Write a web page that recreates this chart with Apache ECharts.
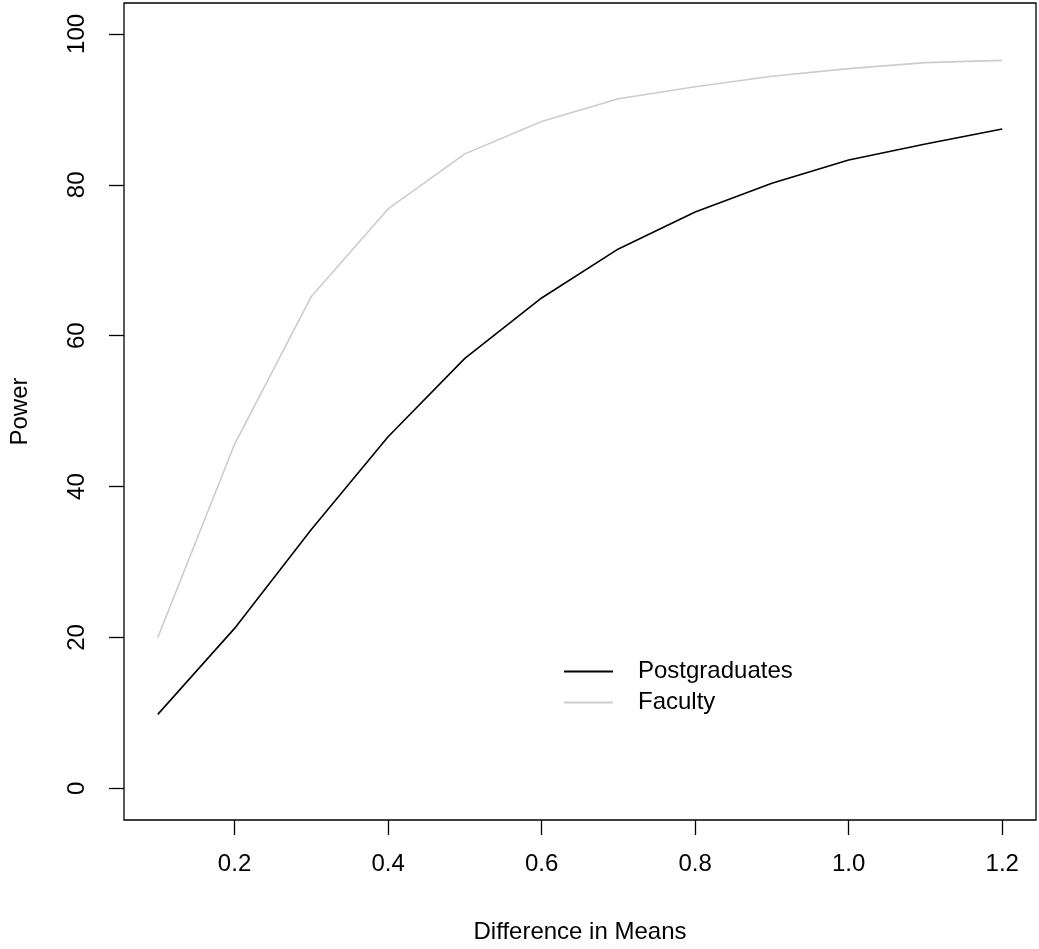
<!DOCTYPE html>
<html>
<head>
<meta charset="utf-8">
<script src="https://cdn.jsdelivr.net/npm/echarts@6/dist/echarts.min.js"></script>
<style>
  html, body { margin: 0; padding: 0; background: #ffffff; }
  #chart { width: 1039px; height: 949px; }
</style>
</head>
<body>
<div id="chart"></div>
<script>
// difference in means (x) and power (%)
const diffs = [0.1, 0.2, 0.3, 0.4, 0.5, 0.6, 0.7, 0.8, 0.9, 1.0, 1.1, 1.2];
const postgraduates = [9.8, 21.2, 34.3, 46.6, 57.0, 65.0, 71.5, 76.4, 80.2, 83.3, 85.4, 87.4];
const faculty = [20.0, 45.6, 65.2, 76.8, 84.1, 88.4, 91.4, 93.0, 94.4, 95.4, 96.2, 96.5];

const xTicks = [0.2, 0.4, 0.6, 0.8, 1.0, 1.2];
const yTicks = [0, 20, 40, 60, 80, 100];

const FONT = 'Liberation Sans, Arial, sans-serif';

const chart = echarts.init(document.getElementById('chart'), null, { renderer: 'canvas' });

function pairs(ys) {
  return diffs.map((x, i) => [x, ys[i]]);
}

chart.setOption({
  animation: false,
  backgroundColor: '#ffffff',
  textStyle: { fontFamily: FONT, color: '#000000' },
  grid: {
    left: 122, right: 3, top: 3, bottom: 128,
    show: true, borderColor: '#000000', borderWidth: 1.3,
    backgroundColor: 'transparent'
  },
  legend: {
    orient: 'vertical',
    left: 564,
    top: 656,
    padding: 0,
    icon: 'rect',
    itemWidth: 49,
    itemHeight: 2,
    itemGap: 0,
    selectedMode: false,
    textStyle: {
      fontFamily: FONT, fontSize: 24, color: '#000000',
      lineHeight: 31, padding: [0, 0, 0, 20]
    },
    data: ['Postgraduates', 'Faculty']
  },
  xAxis: {
    type: 'value',
    min: 0.056,
    max: 1.244,
    name: 'Difference in Means',
    nameLocation: 'middle',
    nameGap: 100,
    nameTextStyle: { fontFamily: FONT, fontSize: 24, color: '#000000' },
    axisLine: { show: false, onZero: false },
    splitLine: { show: false },
    axisTick: {
      show: true, length: 15, inside: false,
      customValues: xTicks,
      lineStyle: { color: '#000000', width: 1.3 }
    },
    axisLabel: {
      customValues: xTicks,
      formatter: v => Number(v).toFixed(1),
      fontFamily: FONT, fontSize: 24, color: '#000000',
      margin: 32
    }
  },
  yAxis: {
    type: 'value',
    min: -4.2,
    max: 104.1,
    name: 'Power',
    nameLocation: 'middle',
    nameRotate: 90,
    nameGap: 92,
    nameTextStyle: { fontFamily: FONT, fontSize: 24, color: '#000000' },
    axisLine: { show: false, onZero: false },
    splitLine: { show: false },
    axisTick: {
      show: true, length: 15, inside: false,
      customValues: yTicks,
      lineStyle: { color: '#000000', width: 1.3 }
    },
    axisLabel: {
      customValues: yTicks,
      rotate: 90,
      fontFamily: FONT, fontSize: 24, color: '#000000',
      margin: 35
    }
  },
  series: [
    {
      name: 'Postgraduates',
      type: 'line',
      data: pairs(postgraduates),
      symbol: 'none',
      color: '#000000',
      lineStyle: { color: '#000000', width: 1.6 }
    },
    {
      name: 'Faculty',
      type: 'line',
      data: pairs(faculty),
      symbol: 'none',
      color: '#cccccc',
      lineStyle: { color: '#cccccc', width: 1.6 }
    }
  ]
});
</script>
</body>
</html>
